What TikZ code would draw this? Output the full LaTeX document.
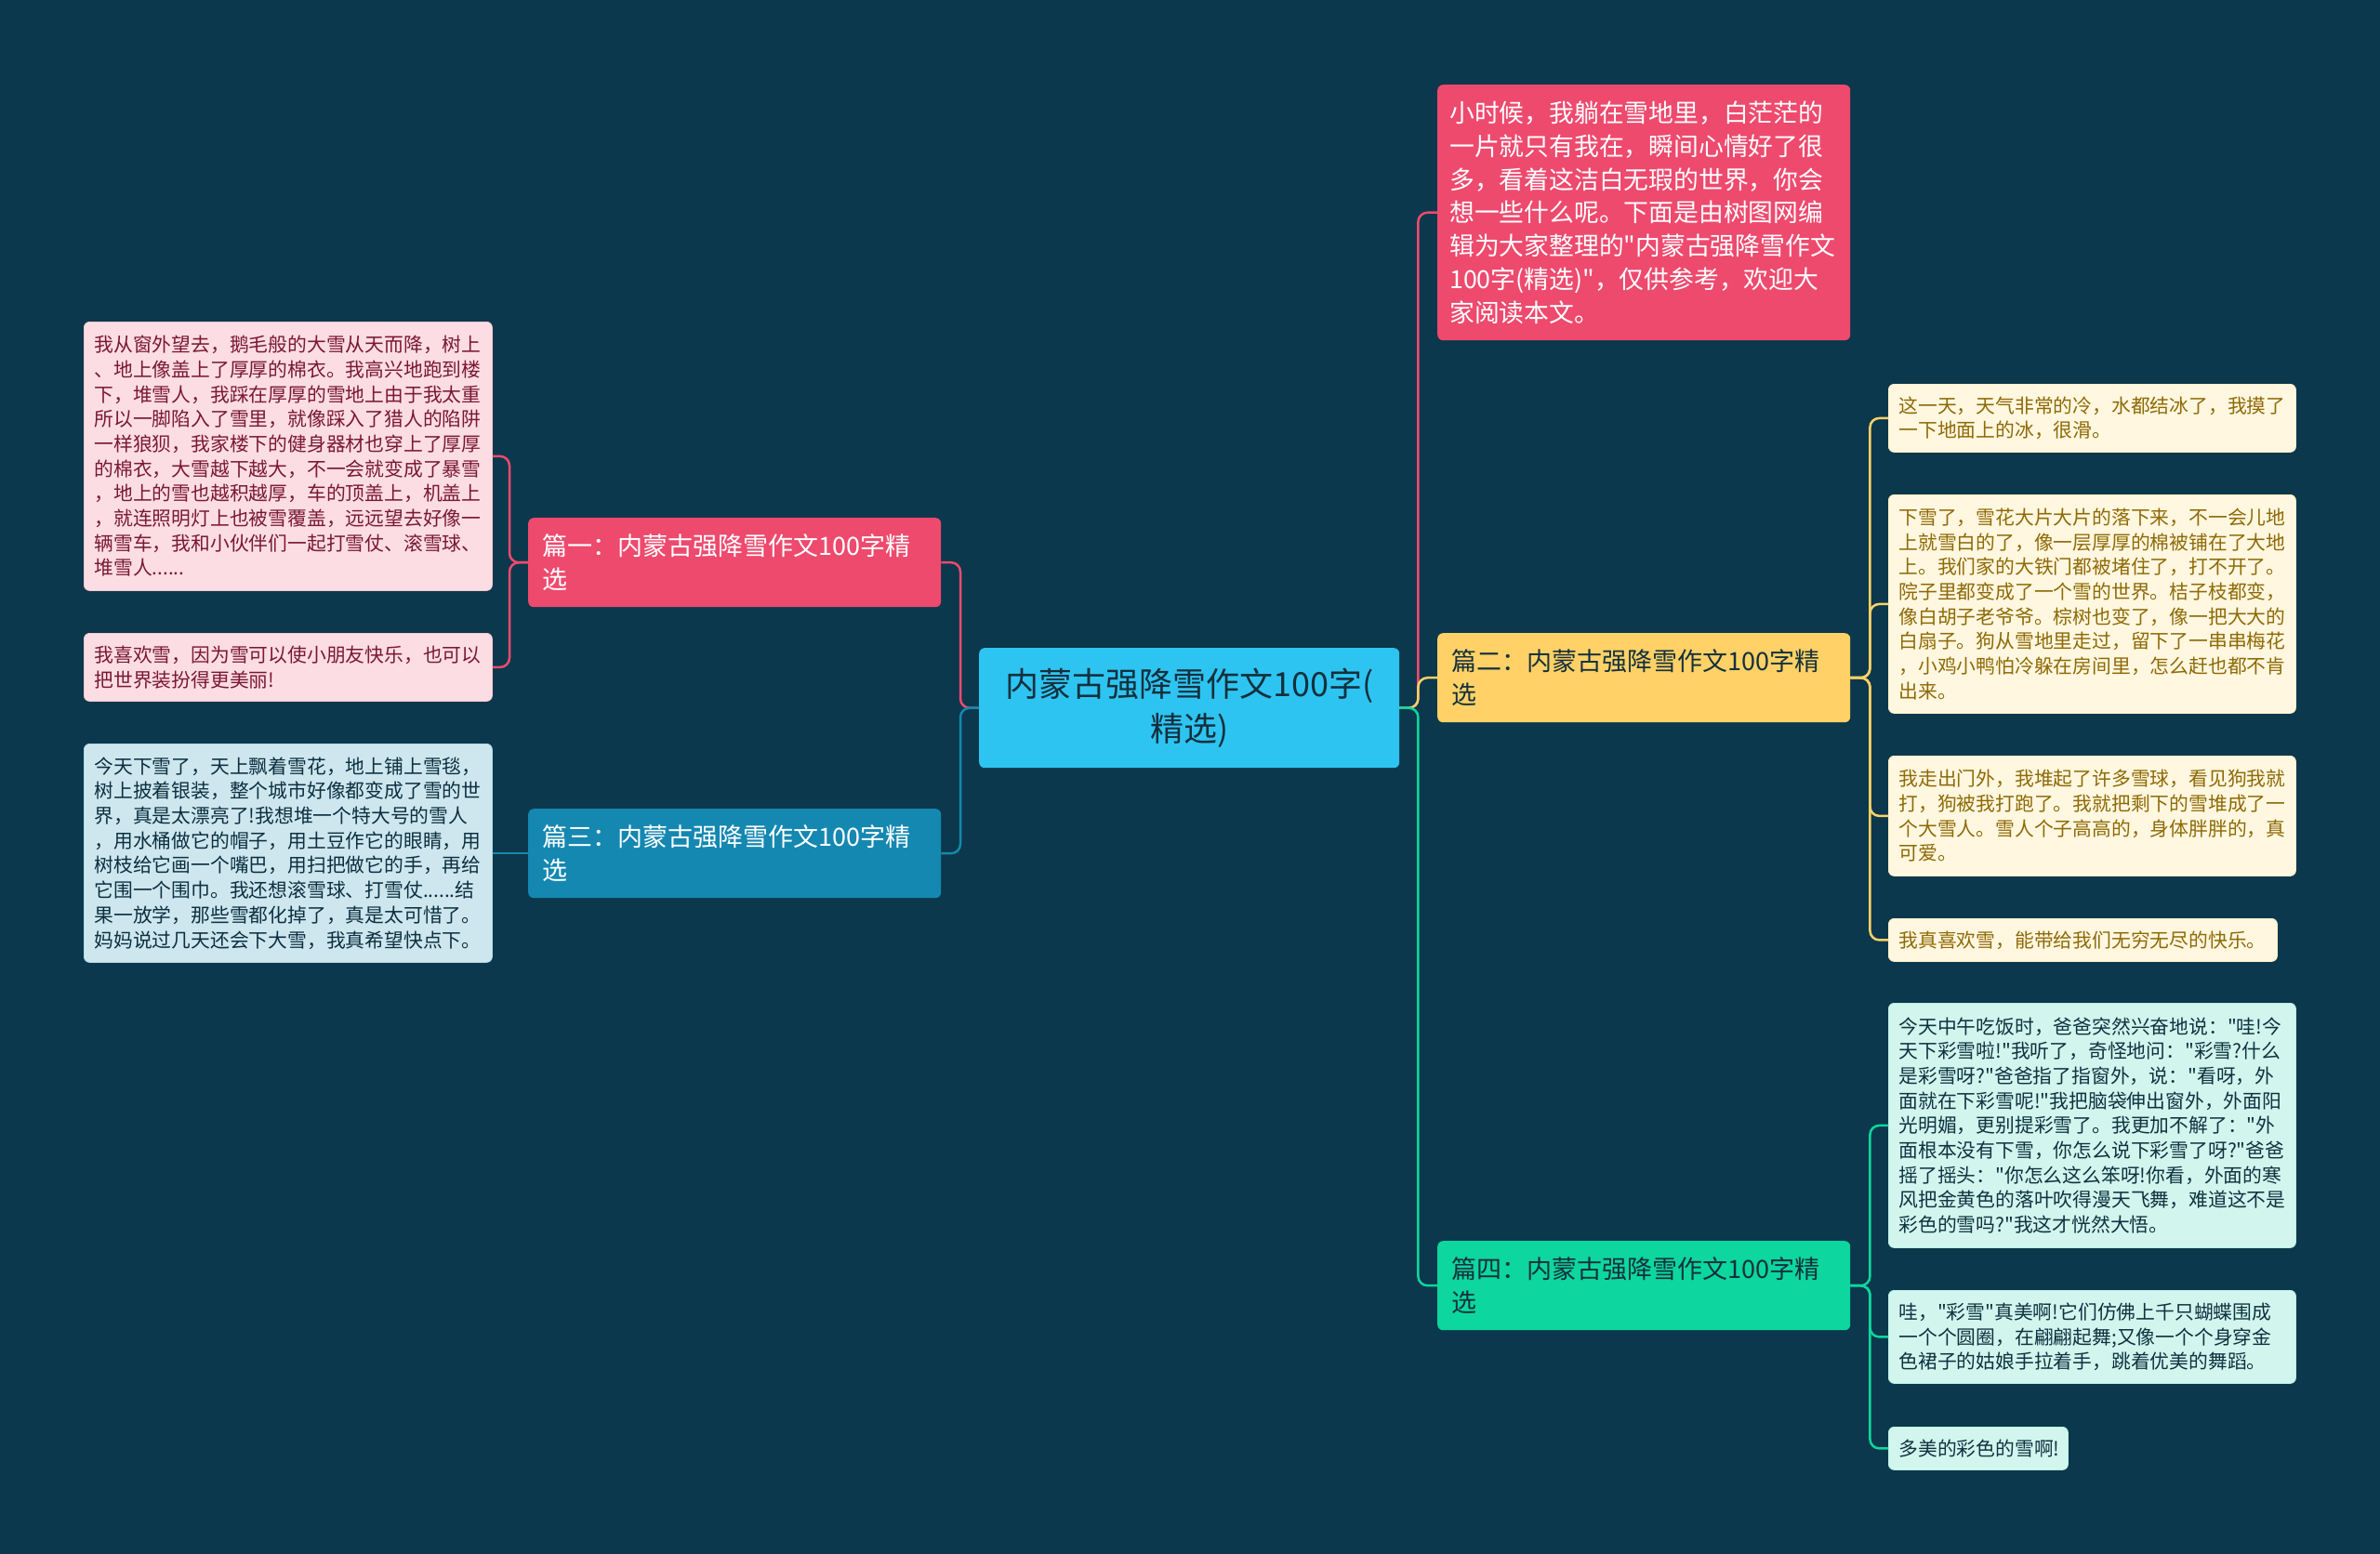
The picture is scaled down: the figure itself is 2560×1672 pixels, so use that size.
\documentclass[tikz,border=0pt]{standalone}
\usepackage{fontspec}
\setmainfont{Noto Sans CJK SC}[Ligatures=TeXOff]
\definecolor{bg}{HTML}{0B384C}
\definecolor{cblue}{HTML}{2EC4F2}
\definecolor{cpink}{HTML}{EE4A6E}
\definecolor{cteal}{HTML}{1488B1}
\definecolor{cyellow}{HTML}{FFD166}
\definecolor{cgreen}{HTML}{0DD69E}
\definecolor{lpink}{HTML}{FCDDE3}
\definecolor{lpinktx}{HTML}{7A1836}
\definecolor{lblue}{HTML}{CEE7EF}
\definecolor{lbluetx}{HTML}{0C2F40}
\definecolor{lcream}{HTML}{FFF7E0}
\definecolor{lcreamtx}{HTML}{8E6A06}
\definecolor{lmint}{HTML}{D2F6EE}
\definecolor{lminttx}{HTML}{0E3340}
\definecolor{darktx}{HTML}{14303C}
\tikzset{
  box/.style={rectangle, rounded corners=6pt, anchor=north west, inner ysep=0pt, align=left},
  leaf/.style={box, inner xsep=11pt, font=\fontsize{20.8pt}{26.7pt}\selectfont},
  leafp/.style={leaf, fill=lpink, draw=lpink!85!cpink, line width=0.8pt, text=lpinktx},
  leafb/.style={leaf, fill=lblue, draw=lblue!85!cteal, line width=0.8pt, text=lbluetx},
  leafy/.style={leaf, fill=lcream, draw=lcream!80!cyellow, line width=0.8pt, text=lcreamtx},
  leafg/.style={leaf, fill=lmint, draw=lmint!85!cgreen, line width=0.8pt, text=lminttx},
  branch/.style={box, inner xsep=15pt, text width=414pt, minimum height=96pt, font=\fontsize{27pt}{36pt}\selectfont},
  conn/.style={line width=2.5pt, rounded corners=10pt},
}
\begin{document}
\begin{tikzpicture}[x=1pt,y=-1pt]
\fill[bg] (0,0) rectangle (2560,1672);
\useasboundingbox (0,0) rectangle (2560,1672);

% center
\node[box, fill=cblue, align=center, inner xsep=8pt, text width=436pt, minimum height=129pt,
  text=darktx, font=\fontsize{36pt}{48pt}\selectfont] (c) at (1053,697)
  {内蒙古强降雪作文100字(\\精选)};

% branches
\node[branch, fill=cpink, text=white] (p1) at (568,557) {篇一：内蒙古强降雪作文100字精\\选};
\node[branch, fill=cteal, text=white] (p3) at (568,870) {篇三：内蒙古强降雪作文100字精\\选};
\node[branch, fill=cyellow, text=darktx] (p2) at (1546,681) {篇二：内蒙古强降雪作文100字精\\选};
\node[branch, fill=cgreen, text=darktx] (p4) at (1546,1335) {篇四：内蒙古强降雪作文100字精\\选};

\node[box, fill=cpink, text=white, inner xsep=13pt, text width=418pt, minimum height=275pt,
  font=\fontsize{26.8pt}{35.8pt}\selectfont] (intro) at (1546,91)
  {小时候，我躺在雪地里，白茫茫的\\一片就只有我在，瞬间心情好了很\\多，看着这洁白无瑕的世界，你会\\想一些什么呢。下面是由树图网编\\辑为大家整理的"内蒙古强降雪作文\\100字(精选)"，仅供参考，欢迎大\\家阅读本文。};

% left leaves
\node[leafp, text width=417pt, minimum height=289pt] (l1) at (90,346)
  {我从窗外望去，鹅毛般的大雪从天而降，树上\\、地上像盖上了厚厚的棉衣。我高兴地跑到楼\\下，堆雪人，我踩在厚厚的雪地上由于我太重\\所以一脚陷入了雪里，就像踩入了猎人的陷阱\\一样狼狈，我家楼下的健身器材也穿上了厚厚\\的棉衣，大雪越下越大，不一会就变成了暴雪\\，地上的雪也越积越厚，车的顶盖上，机盖上\\，就连照明灯上也被雪覆盖，远远望去好像一\\辆雪车，我和小伙伴们一起打雪仗、滚雪球、\\堆雪人......};
\node[leafp, text width=417pt, minimum height=73pt] (l2) at (90,681)
  {我喜欢雪，因为雪可以使小朋友快乐，也可以\\把世界装扮得更美丽!};
\node[leafb, text width=417pt, minimum height=235pt] (l3) at (90,800)
  {今天下雪了，天上飘着雪花，地上铺上雪毯，\\树上披着银装，整个城市好像都变成了雪的世\\界，真是太漂亮了!我想堆一个特大号的雪人\\，用水桶做它的帽子，用土豆作它的眼睛，用\\树枝给它画一个嘴巴，用扫把做它的手，再给\\它围一个围巾。我还想滚雪球、打雪仗......结\\果一放学，那些雪都化掉了，真是太可惜了。\\妈妈说过几天还会下大雪，我真希望快点下。};

% right leaves
\node[leafy, text width=416pt, minimum height=73pt] (r1) at (2031,413)
  {这一天，天气非常的冷，水都结冰了，我摸了\\一下地面上的冰，很滑。};
\node[leafy, text width=416pt, minimum height=235pt] (r2) at (2031,532)
  {下雪了，雪花大片大片的落下来，不一会儿地\\上就雪白的了，像一层厚厚的棉被铺在了大地\\上。我们家的大铁门都被堵住了，打不开了。\\院子里都变成了一个雪的世界。桔子枝都变，\\像白胡子老爷爷。棕树也变了，像一把大大的\\白扇子。狗从雪地里走过，留下了一串串梅花\\，小鸡小鸭怕冷躲在房间里，怎么赶也都不肯\\出来。};
\node[leafy, text width=416pt, minimum height=129pt] (r3) at (2031,813)
  {我走出门外，我堆起了许多雪球，看见狗我就\\打，狗被我打跑了。我就把剩下的雪堆成了一\\个大雪人。雪人个子高高的，身体胖胖的，真\\可爱。};
\node[leafy, text width=396pt, minimum height=46pt] (r4) at (2031,988)
  {我真喜欢雪，能带给我们无穷无尽的快乐。};
\node[leafg, text width=416pt, minimum height=263pt] (r5) at (2031,1079)
  {今天中午吃饭时，爸爸突然兴奋地说："哇!今\\天下彩雪啦!"我听了，奇怪地问："彩雪?什么\\是彩雪呀?"爸爸指了指窗外，说："看呀，外\\面就在下彩雪呢!"我把脑袋伸出窗外，外面阳\\光明媚，更别提彩雪了。我更加不解了："外\\面根本没有下雪，你怎么说下彩雪了呀?"爸爸\\摇了摇头："你怎么这么笨呀!你看，外面的寒\\风把金黄色的落叶吹得漫天飞舞，难道这不是\\彩色的雪吗?"我这才恍然大悟。};
\node[leafg, text width=416pt, minimum height=100pt] (r6) at (2031,1388)
  {哇，"彩雪"真美啊!它们仿佛上千只蝴蝶围成\\一个个圆圈，在翩翩起舞;又像一个个身穿金\\色裙子的姑娘手拉着手，跳着优美的舞蹈。};
\node[leafg, text width=171pt, minimum height=46pt] (r7) at (2031,1535)
  {多美的彩色的雪啊!};

% connectors: center to branches
\draw[conn, cpink] (c.west) -- ++(-20,0) |- (p1.east);
\draw[conn, cteal] (c.west) -- ++(-20,0) |- (p3.east);
\draw[conn, cpink] (c.east) -- ++(20,0) |- (intro.west);
\draw[conn, cyellow] (c.east) -- ++(20,0) |- (p2.west);
\draw[conn, cgreen] (c.east) -- ++(20,0) |- (p4.west);

% branch to leaves
\draw[conn, cpink] (p1.west) -- ++(-20,0) |- (l1.east);
\draw[conn, cpink] (p1.west) -- ++(-20,0) |- (l2.east);
\draw[conn, cteal] (p3.west) -- (l3.east |- p3.west);
\draw[conn, cyellow] (p2.east) -- ++(21,0) |- (r1.west);
\draw[conn, cyellow] (p2.east) -- ++(21,0) |- (r2.west);
\draw[conn, cyellow] (p2.east) -- ++(21,0) |- (r3.west);
\draw[conn, cyellow] (p2.east) -- ++(21,0) |- (r4.west);
\draw[conn, cgreen] (p4.east) -- ++(21,0) |- (r5.west);
\draw[conn, cgreen] (p4.east) -- ++(21,0) |- (r6.west);
\draw[conn, cgreen] (p4.east) -- ++(21,0) |- (r7.west);
\end{tikzpicture}
\end{document}
